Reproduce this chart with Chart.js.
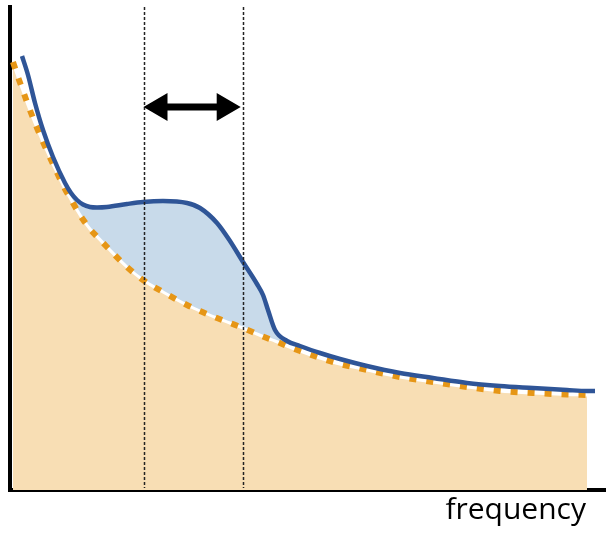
<!DOCTYPE html>
<html>
<head>
<meta charset="utf-8">
<script src="https://cdn.jsdelivr.net/npm/chart.js@4.4.1/dist/chart.umd.min.js"></script>
<style>
html,body{margin:0;padding:0;background:#fff;}
#c{display:block;}
</style>
</head>
<body>
<canvas id="c" width="606" height="535"></canvas>
<script>
// ---- data (arbitrary units) ----
const freq = [0.3, 0.8, 1.2, 1.8, 2.5, 3.3, 4.3, 5.5, 6.1, 6.7, 7.3, 8.0, 8.7, 9.7, 11.7, 13.3, 15.3, 17.7, 19.0, 20.7, 22.0, 23.3, 24.7, 25.3, 25.8, 26.5, 27.7, 29.0, 31.0, 33.0, 35.7, 39.0, 42.3, 45.7, 49.0, 52.3, 55.7, 57.7, 58.5];
const aperiodic = [42.8, 41.3, 40.2, 38.5, 36.7, 34.8, 32.6, 30.1, 29.05, 28.0, 27.05, 26.1, 25.35, 24.3, 22.3, 21.0, 19.8, 18.5, 17.9, 17.2, 16.7, 16.2, 15.6, 15.35, 15.15, 14.9, 14.4, 13.9, 13.2, 12.6, 12.0, 11.3, 10.8, 10.3, 9.9, 9.7, 9.55, 9.5, null];
const spectrum = [null, null, 43.4, 41.5, 38.7, 36.0, 33.3, 30.7, 29.7, 29.0, 28.55, 28.3, 28.25, 28.3, 28.6, 28.8, 28.9, 28.7, 28.2, 26.7, 24.9, 22.8, 20.6, 19.5, 18.0, 16.0, 14.9, 14.4, 13.7, 13.1, 12.4, 11.7, 11.2, 10.7, 10.4, 10.2, 10.0, 9.9, 9.9];
const peakRange = [5.5, 27.7];          // frequencies where the periodic bump is shaded
const bandEdges = [13.35, 23.27];       // dashed band limits
const arrowLevel = [38.3];              // height of the double arrow
const xLabel = 'frequency';
const xMax = 59.6, yMax = 48.3;

// ---- derived series ----
const pts = (ys) => freq.map((f, i) => ({x: f, y: ys[i]}));
const peak = freq.map((f, i) => (f >= peakRange[0] && f <= peakRange[1]) ? {x: f, y: spectrum[i]} : {x: f, y: null});

const BEIGE = 'rgb(248,222,180)';
const LIGHTBLUE = 'rgb(200,218,234)';
const NAVY = '#2f5597';
const ORANGE = 'rgb(230,150,22)';

const overlay = {
  id: 'overlay',
  afterDatasetsDraw(chart) {
    const {ctx, chartArea, scales: {x, y}} = chart;
    ctx.save();
    // dashed band edges
    ctx.strokeStyle = '#222';
    ctx.lineWidth = 1.5;
    ctx.setLineDash([3, 2]);
    bandEdges.forEach(f => {
      const px = Math.round(x.getPixelForValue(f)) + 0.5;
      ctx.beginPath();
      ctx.moveTo(px, chartArea.top);
      ctx.lineTo(px, chartArea.bottom - 2);
      ctx.stroke();
    });
    ctx.setLineDash([]);
    // double arrow
    const x1 = x.getPixelForValue(bandEdges[0]);
    const x2 = x.getPixelForValue(bandEdges[1]) - 2;
    const yc = y.getPixelForValue(arrowLevel[0]);
    const hl = 24, hh = 14, sh = 3.5;
    ctx.fillStyle = '#000';
    ctx.beginPath();
    ctx.moveTo(x1, yc);
    ctx.lineTo(x1 + hl, yc - hh);
    ctx.lineTo(x1 + hl, yc - sh);
    ctx.lineTo(x2 - hl, yc - sh);
    ctx.lineTo(x2 - hl, yc - hh);
    ctx.lineTo(x2, yc);
    ctx.lineTo(x2 - hl, yc + hh);
    ctx.lineTo(x2 - hl, yc + sh);
    ctx.lineTo(x1 + hl, yc + sh);
    ctx.lineTo(x1 + hl, yc + hh);
    ctx.closePath();
    ctx.fill();
    // axis label
    ctx.font = "30px 'Open Sans'";
    ctx.textAlign = 'right';
    ctx.textBaseline = 'alphabetic';
    ctx.fillStyle = '#000';
    ctx.fillText(xLabel, chartArea.right - 20, chartArea.bottom + 29);
    ctx.restore();
  }
};

new Chart(document.getElementById('c'), {
  type: 'line',
  data: {
    datasets: [
      { // beige area under aperiodic component
        data: pts(aperiodic), borderWidth: 0, borderColor: 'transparent',
        backgroundColor: BEIGE, fill: 'origin', order: 5
      },
      { // periodic bump shading
        data: peak, borderWidth: 0, borderColor: 'transparent',
        backgroundColor: LIGHTBLUE, fill: '-1', order: 4, spanGaps: false
      },
      { // white under-line of the dotted curve
        data: pts(aperiodic), borderWidth: 3, borderColor: '#fff', fill: false, order: 3
      },
      { // dotted aperiodic fit
        data: pts(aperiodic), borderWidth: 6, borderColor: ORANGE, borderDash: [7, 10],
        borderCapStyle: 'butt', fill: false, order: 2
      },
      { // power spectrum
        data: pts(spectrum), borderWidth: 4.5, borderColor: NAVY, fill: false, order: 1,
        borderCapStyle: 'butt'
      }
    ]
  },
  options: {
    responsive: false,
    animation: false,
    devicePixelRatio: 1,
    layout: {padding: {left: 10, right: 0, top: 7, bottom: 45}},
    elements: {
      point: {radius: 0, hoverRadius: 0},
      line: {cubicInterpolationMode: 'monotone'}
    },
    plugins: {legend: {display: false}, tooltip: {enabled: false}},
    scales: {
      x: {
        type: 'linear', min: 0, max: xMax, z: 1,
        ticks: {display: false},
        grid: {display: false, drawTicks: false},
        border: {display: true, color: '#000', width: 4}
      },
      y: {
        type: 'linear', min: 0, max: yMax, z: 1,
        ticks: {display: false},
        grid: {display: false, drawTicks: false},
        border: {display: true, color: '#000', width: 4}
      }
    }
  },
  plugins: [overlay]
});
</script>
</body>
</html>
